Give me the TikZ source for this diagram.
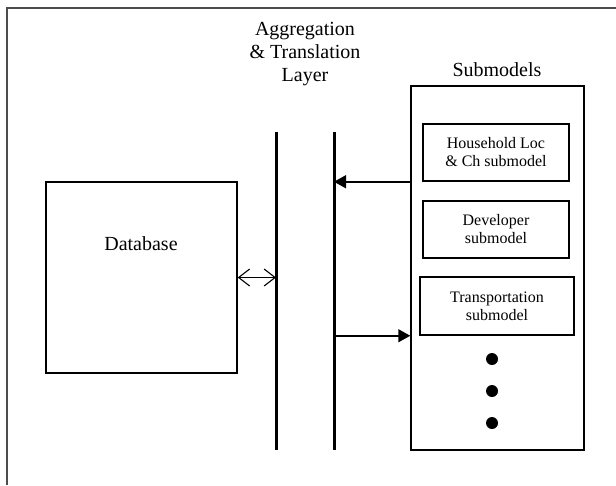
\documentclass[tikz,border=0pt]{standalone}
\usepackage{fontspec}
\setmainfont{Liberation Serif}
\usetikzlibrary{arrows.meta}
\begin{document}
\begin{tikzpicture}[x=1pt,y=-1pt,
  box/.style={draw,line width=1.5pt,inner sep=0pt},
  title/.style={align=center,font=\fontsize{20}{23}\selectfont},
  small/.style={align=center,font=\fontsize{16}{18}\selectfont},
  layer/.style={line width=3pt},
  arr/.style={line width=1.5pt,-{Triangle[length=12pt,width=13pt]}},
  dbl/.style={line width=1.1pt,{Straight Barb[length=11pt,width=17pt]}-{Straight Barb[length=11pt,width=17pt]}},
  dot/.style={circle,fill,inner sep=0pt,minimum size=12pt}]
\useasboundingbox (0,0) rectangle (616,485);
\fill[white] (0,0) rectangle (616,485);
\draw[line width=1.5pt,black!70] (7,485) -- (7,8) -- (616,8);
% layer lines
\coordinate (laTop) at (276,132);
\coordinate (laBot) at (276,450);
\coordinate (lbTop) at (334,132);
\coordinate (lbBot) at (334,450);
\draw[layer] (laTop) -- (laBot);
\draw[layer] (lbTop) -- (lbBot);
\node[title] (ttl) at (305,54) {Aggregation\\\& Translation\\Layer};
% database
\node[box,minimum width=191pt,minimum height=191pt] (db) at (141.5,277.5) {};
\node[title] (dbt) at (141,244) {Database};
% submodels
\node[box,minimum width=173pt,minimum height=364pt] (sub) at (497.5,268) {};
\node[title] (subt) at (497,70) {Submodels};
\node[box,small,minimum width=146pt,minimum height=57pt] (hh) at (496,152.5) {Household Loc\\\& Ch submodel};
\node[box,small,minimum width=146pt,minimum height=57pt] (dev) at (496,229.5) {Developer\\submodel};
\node[box,small,minimum width=154pt,minimum height=58pt] (tr) at (497,306) {Transportation\\submodel};
\node[dot] (d1) at (492,359) {};
\node[dot] (d2) at (492,391) {};
\node[dot] (d3) at (492,423) {};
% connectors
\draw[dbl] (db.east) -- (db.east -| laTop);
\draw[arr] (sub.west |- hh.south) -- (lbTop |- hh.south);
\draw[arr] (lbTop |- tr.south) -- (sub.west |- tr.south);
\end{tikzpicture}
\end{document}
